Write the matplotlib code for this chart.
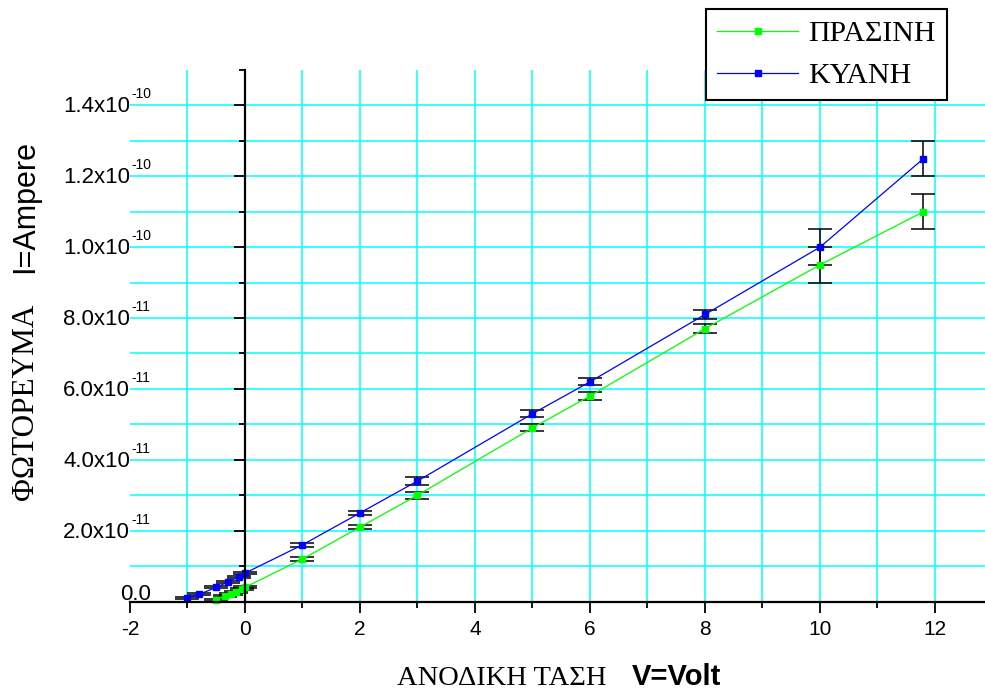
import matplotlib
matplotlib.use('Agg')
import matplotlib.pyplot as plt
import matplotlib.transforms as mtransforms
from matplotlib.lines import Line2D
import numpy as np

plt.rcParams['axes.unicode_minus'] = False
plt.rcParams['font.family'] = 'Liberation Sans'

# ΠΡΑΣΙΝΗ (green) - tasi se Volt, reuma se 1e-11 A
green_v = [-0.5, -0.35, -0.25, -0.15, -0.05, 0, 1, 2, 3, 5, 6, 8, 10, 11.8]
green_i = [0.05, 0.15, 0.22, 0.28, 0.35, 0.4, 1.2, 2.1, 3.0, 4.9, 5.8, 7.7, 9.5, 11.0]
green_err = [0.03, 0.03, 0.03, 0.03, 0.03, 0.03, 0.06, 0.06, 0.1, 0.1, 0.1, 0.12, 0.5, 0.5]

# ΚΥΑΝΗ (blue)
blue_v = [-1.0, -0.8, -0.5, -0.3, -0.1, 0, 1, 2, 3, 5, 6, 8, 10, 11.8]
blue_i = [0.1, 0.2, 0.4, 0.55, 0.7, 0.8, 1.6, 2.5, 3.4, 5.3, 6.2, 8.1, 10.0, 12.5]
blue_err = [0.03, 0.03, 0.03, 0.03, 0.03, 0.03, 0.06, 0.06, 0.1, 0.1, 0.1, 0.12, 0.5, 0.5]

x_ticks = [-2, 0, 2, 4, 6, 8, 10, 12]
x_labels = ['-2', '0', '2', '4', '6', '8', '10', '12']
y_ticks = [2e-11, 4e-11, 6e-11, 8e-11, 1e-10, 1.2e-10, 1.4e-10]
y_mant = ['2.0x10', '4.0x10', '6.0x10', '8.0x10', '1.0x10', '1.2x10', '1.4x10']
y_exp = ['-11', '-11', '-11', '-11', '-10', '-10', '-10']

scale = 1e-11
W, H = 985, 691

fig = plt.figure(figsize=(W / 100, H / 100), dpi=100)
ax = fig.add_axes([130 / W, 89.5 / H, 855 / W, 531.5 / H])

ax.set_xlim(-2, 12.87)
ax.set_ylim(0, 1.5e-10)

# grid (cyan) sto kathe 1 V kai 1e-11 A
for xv in range(-1, 13):
    ax.axvline(xv, color='#00ffff', lw=1.1, zorder=0)
for k in range(1, 15):
    ax.axhline(k * scale, color='#00ffff', lw=1.1, zorder=0)

# error bars
gy = np.array(green_i) * scale
by = np.array(blue_i) * scale
ax.errorbar(green_v, gy, yerr=np.array(green_err) * scale, fmt='none',
            ecolor='black', elinewidth=1.1, capsize=8.3, capthick=1.1, zorder=2)
ax.errorbar(blue_v, by, yerr=np.array(blue_err) * scale, fmt='none',
            ecolor='black', elinewidth=1.1, capsize=8.3, capthick=1.1, zorder=2)

ax.plot(green_v, gy, color='#00ff00', lw=0.9, marker='s', ms=4.5, mec='#00ff00',
        zorder=3, clip_on=False)
ax.plot(blue_v, by, color='#0000ff', lw=0.9, marker='s', ms=4.5, mec='#0000ff',
        zorder=3, clip_on=False)

# axones
ax.spines['top'].set_visible(False)
ax.spines['right'].set_visible(False)
ax.spines['left'].set_position(('data', 0))
ax.spines['left'].set_linewidth(1.6)
ax.spines['bottom'].set_linewidth(1.6)
ax.spines['left'].set_zorder(4)
ax.spines['bottom'].set_zorder(4)

ax.set_xticks(x_ticks)
ax.set_xticklabels(x_labels, fontsize=15)
ax.set_xticks(range(-1, 13, 2), minor=True)
ax.set_yticks([0] + y_ticks)
ax.set_yticks([k * scale for k in range(1, 16, 2)], minor=True)
ax.tick_params(which='major', length=8, width=1.3, direction='out', pad=5)
ax.tick_params(which='minor', length=4, width=1.3, direction='out')
ax.tick_params(axis='y', labelleft=False)

# etiketes y me ekthetes
trans = mtransforms.blended_transform_factory(ax.transAxes, ax.transData)
for yv, m, e in zip(y_ticks, y_mant, y_exp):
    ax.annotate(m, xy=(0, yv), xycoords=trans, xytext=(0, -7),
                textcoords='offset pixels', ha='right', va='baseline', fontsize=16,
                annotation_clip=False)
    ax.annotate(e, xy=(0, yv), xycoords=trans, xytext=(1, 7),
                textcoords='offset pixels', ha='left', va='baseline', fontsize=10,
                annotation_clip=False)
ax.annotate('0.0', xy=(0, 0), xycoords=trans, xytext=(21, 2),
            textcoords='offset pixels', ha='right', va='baseline', fontsize=16,
            annotation_clip=False)

# titloi axonon
fig.text(397 / W, 1 - 685 / H, 'ΑΝΟΔΙΚΗ ΤΑΣΗ', family='Liberation Serif', fontsize=20.5,
         ha='left', va='baseline')
fig.text(632 / W, 1 - 685 / H, 'V=Volt', fontsize=21, fontweight='bold',
         ha='left', va='baseline')
fig.text(33 / W, 1 - 500 / H, 'ΦΩΤΟΡΕΥΜΑ', family='Liberation Serif', fontsize=22.5,
         rotation=90, rotation_mode='anchor', ha='left', va='baseline')
fig.text(33 / W, 1 - 273 / H, 'I=Ampere', fontsize=22,
         rotation=90, rotation_mode='anchor', ha='left', va='baseline')

handles = [Line2D([], [], color='#00ff00', lw=0.9, marker='s', ms=4.5, mec='#00ff00'),
           Line2D([], [], color='#0000ff', lw=0.9, marker='s', ms=4.5, mec='#0000ff')]
leg = ax.legend(handles, ['ΠΡΑΣΙΝΗ', 'ΚΥΑΝΗ'], loc='upper left',
                bbox_to_anchor=(706 / W, 1 - 9 / H), bbox_transform=fig.transFigure,
                prop={'family': 'Liberation Serif', 'size': 21.5}, frameon=True,
                fancybox=False, framealpha=1, edgecolor='black', borderpad=0.38,
                handlelength=2.7, handletextpad=0.35, labelspacing=0.5,
                borderaxespad=0, numpoints=1)
leg.get_frame().set_linewidth(1.5)
leg.set_zorder(10)

fig.savefig('out.png', dpi=100)
